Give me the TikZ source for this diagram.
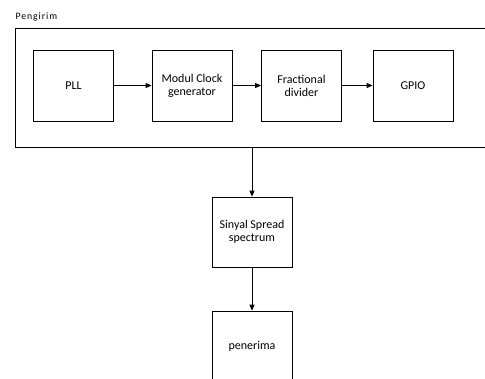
\documentclass[tikz,border=0pt]{standalone}
\usepackage{fontspec}
\setmainfont{Carlito}
\newfontfamily\lblfont[LetterSpace=9]{Carlito}
\usetikzlibrary{arrows.meta}
\begin{document}
\begin{tikzpicture}[x=1pt,y=-1pt,
  blk/.style={draw,line width=0.8pt,minimum width=80pt,minimum height=71pt,align=center,inner sep=0pt,font=\fontsize{12}{13}\selectfont},
  arr/.style={line width=0.8pt,-{Triangle[length=6pt,width=5pt]}}]
\useasboundingbox (0,0) rectangle (485,378);
\clip (0,0) rectangle (485,378);
\fill[white] (0,0) rectangle (485,378);
\node[anchor=base west,inner sep=0pt,font=\lblfont\fontsize{9.8}{12}\selectfont] (lbl) at (15.5,19.5) {Pengirim};
\draw[line width=0.8pt] (15,28) rectangle (500,147);
\coordinate (outb) at (252,147);
\node[blk] (pll) at (73.5,85.5) {PLL};
\node[blk] (mcg) at (192,85.5) {Modul Clock\\generator};
\node[blk] (fd) at (301.5,85.5) {Fractional\\divider};
\node[blk] (gpio) at (413,85.5) {GPIO};
\node[blk,minimum height=70pt] (sss) at (252,232) {Sinyal Spread\\spectrum};
\node[blk] (pen) at (252,346.5) {penerima};
\draw[arr] (pll) -- (mcg);
\draw[arr] (mcg) -- (fd);
\draw[arr] (fd) -- (gpio);
\draw[arr] (outb) -- (sss);
\draw[arr] (sss) -- (pen);
\end{tikzpicture}
\end{document}
